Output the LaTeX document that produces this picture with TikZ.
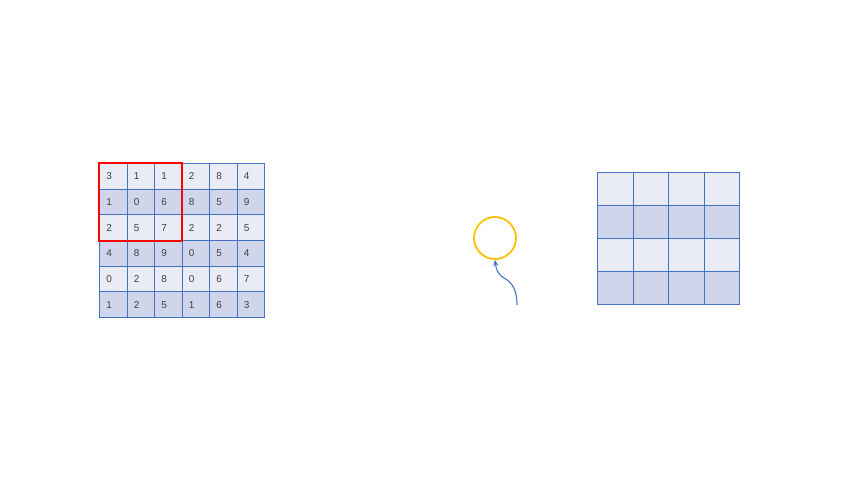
\documentclass[tikz,border=0pt]{standalone}
\usepackage{fontspec}
\setmainfont{Liberation Sans}
\usetikzlibrary{arrows.meta}
\definecolor{lightcell}{HTML}{E9EBF5}
\definecolor{darkcell}{HTML}{CFD5EA}
\definecolor{gridblue}{HTML}{4472C4}
\definecolor{ringorange}{HTML}{FFC000}
\definecolor{numgray}{HTML}{404040}
\tikzset{
  cellA/.style={draw=gridblue, line width=0.8pt, fill=lightcell, minimum width=27.5pt, minimum height=25.67pt, inner sep=0pt, anchor=north west},
  cellB/.style={cellA, fill=darkcell},
  numtext/.style={font=\fontsize{10}{11}\selectfont, text=numgray, inner sep=0pt, anchor=base},
  bigA/.style={draw=gridblue, line width=0.8pt, fill=lightcell, minimum width=35.5pt, minimum height=33pt, inner sep=0pt, anchor=north west},
  bigB/.style={bigA, fill=darkcell},
}
\begin{document}
\begin{tikzpicture}[x=1pt,y=-1pt]
\useasboundingbox (0,0) rectangle (853,480);
\fill[white] (0,0) rectangle (853,480);
% input grid
\foreach \row [count=\r from 0] in {{3,1,1,2,8,4},{1,0,6,8,5,9},{2,5,7,2,2,5},{4,8,9,0,5,4},{0,2,8,0,6,7},{1,2,5,1,6,3}}{
  \foreach \v [count=\c from 0] in \row {
    \pgfmathsetmacro{\xx}{99+27.5*\c}
    \pgfmathsetmacro{\yy}{163+25.67*\r}
    \ifodd\r
      \node[cellB] (in-\r-\c) at (\xx,\yy) {};
    \else
      \node[cellA] (in-\r-\c) at (\xx,\yy) {};
    \fi
    \node[numtext] (num-\r-\c) at ([xshift=-4pt,yshift=-3.6pt]in-\r-\c.center) {\v};
  }
}
\draw[red, line width=1.8pt] (in-0-0.north west) rectangle (in-2-2.south east);
% output grid
\foreach \r in {0,...,3}{
  \foreach \c in {0,...,3}{
    \pgfmathsetmacro{\xx}{597+35.5*\c}
    \pgfmathsetmacro{\yy}{172+33*\r}
    \ifodd\r
      \node[bigB] (out-\r-\c) at (\xx,\yy) {};
    \else
      \node[bigA] (out-\r-\c) at (\xx,\yy) {};
    \fi
  }
}
% ring and arrow
\node[circle, draw=ringorange, line width=1.8pt, minimum size=42pt, inner sep=0pt] (ring) at (495,238) {};
\coordinate (tail) at (517,305);
\draw[gridblue, line width=1.1pt, -{Stealth[length=6pt,width=5pt]}] (tail) .. controls (517,290) and (512,282) .. (504,278) .. controls (497,274) and (496,268) .. (ring.south);
\end{tikzpicture}
\end{document}
